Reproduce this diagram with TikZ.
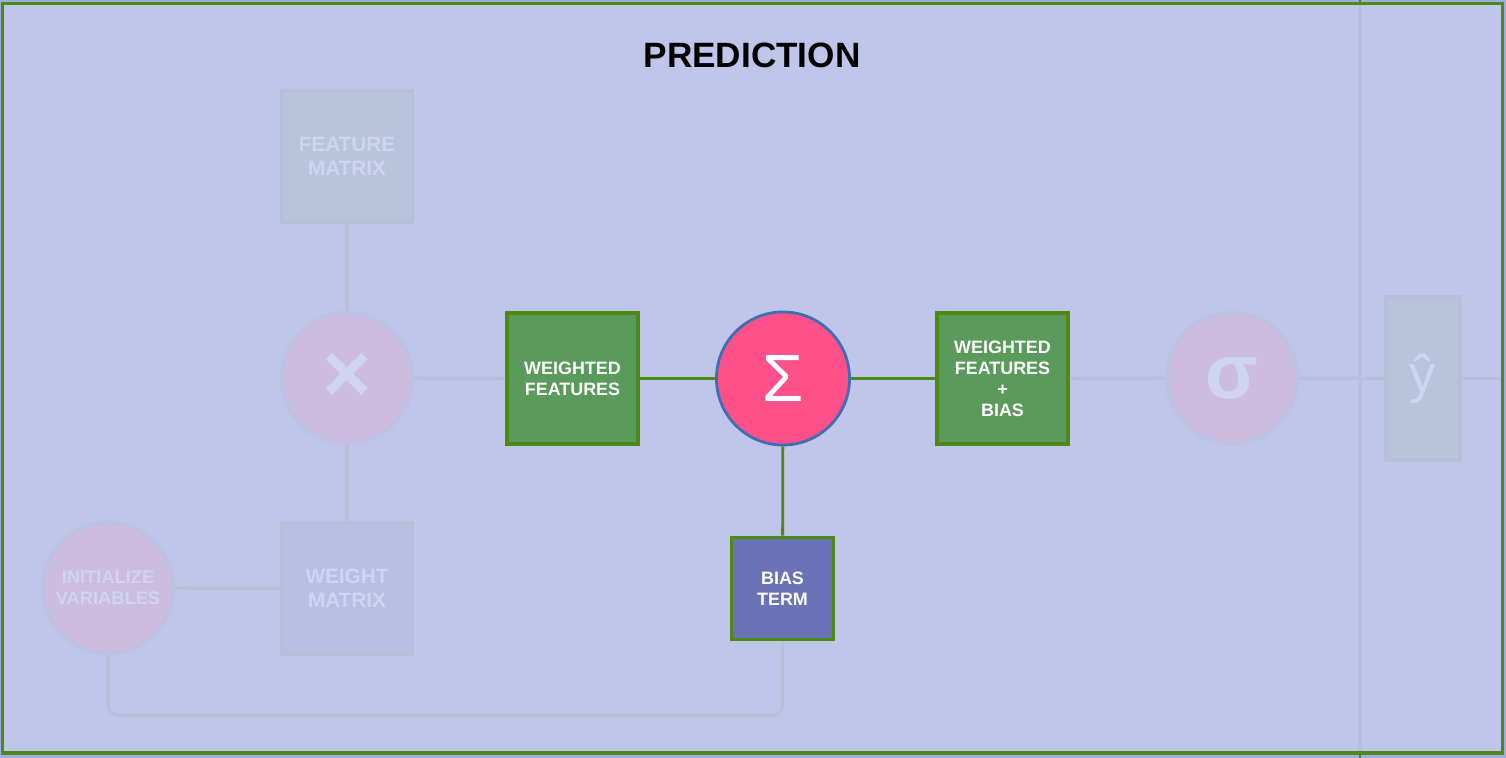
\documentclass[tikz,border=0pt]{standalone}
\usepackage{fontspec}
\setmainfont{Liberation Sans}
\usetikzlibrary{positioning}
\definecolor{outerbg}{HTML}{A3ABE3}
\definecolor{innerbg}{HTML}{C0C6EA}
\definecolor{framegreen}{HTML}{4D8A13}
\definecolor{boxgreen}{HTML}{5A9A5A}
\definecolor{biasblue}{HTML}{6872B5}
\definecolor{sumpink}{HTML}{FF5189}
\definecolor{sumedge}{HTML}{3D6FB2}
\definecolor{fadebox}{HTML}{B8C3DC}
\definecolor{fadeboxb}{HTML}{B8BFE3}
\definecolor{fadeedge}{HTML}{B6BFD8}
\definecolor{fadecirc}{HTML}{CBBCE0}
\definecolor{fadecircedge}{HTML}{BBC2E2}
\definecolor{fadetext}{HTML}{CFD5F0}
\definecolor{fadeline}{HTML}{B7C0D9}
\tikzset{livebox/.style={draw=framegreen, line width=1.05pt, fill=boxgreen, text=white, align=center, inner sep=0pt, minimum width=1.31cm, minimum height=1.31cm, font=\fontsize{5.1}{6}\selectfont\bfseries}}
\tikzset{fadedbox/.style={draw=fadeedge, line width=1pt, fill=fadebox, text=fadetext, align=center, inner sep=0pt, minimum width=1.31cm, minimum height=1.31cm, font=\fontsize{5.9}{6.8}\selectfont\bfseries}}
\tikzset{fadedcirc/.style={circle, draw=fadecircedge, line width=1pt, fill=fadecirc, text=fadetext, align=center, inner sep=0pt, minimum size=1.31cm}}
\tikzset{liveline/.style={draw=framegreen, line width=0.8pt}}
\tikzset{fadedline/.style={draw=fadeline, line width=0.9pt}}

\begin{document}
\begin{tikzpicture}[x=0.01cm, y=-0.01cm]
            \useasboundingbox [fill=outerbg] (0,0) rectangle (1506,758);
            \draw [framegreen, line width=1.05pt, fill=innerbg] (2.5,3.5) rectangle (1502.5,753);
            \draw [framegreen, line width=0.8pt] (1360,0) -- (1360,758);
            \draw [fadedline] (1360,5.5) -- (1360,751);
            \node (title) at (752,55) {\fontsize{10}{12}\selectfont\bfseries PREDICTION};
            % faded part
            \node [fadedbox] (feat) at (347,156.5) {FEATURE\\MATRIX};
            \node [fadedcirc, font=\fontsize{24}{24}\selectfont\bfseries] (times) at (347,378) {×};
            \node [fadedbox, fill=fadeboxb] (wmat) at (347,588.5) {WEIGHT\\MATRIX};
            \node [fadedcirc, font=\fontsize{5.2}{6}\selectfont\bfseries] (init) at (108,588) {INITIALIZE\\VARIABLES};
            \node [fadedcirc, font=\fontsize{22}{22}\selectfont\bfseries] (sig) at (1232,378) {σ};
            \node [fadedbox, minimum width=0.74cm, minimum height=1.63cm, font=\fontsize{15}{15}\selectfont] (yhat) at (1423,378.5) {ŷ};
            \coordinate (out) at (1501,378.5);
            \draw [fadedline] (feat) -- (times);
            \draw [fadedline] (times) -- (wmat);
            \draw [fadedline] (init) -- (wmat);
            \draw [fadedline, rounded corners=2.8pt] (init.south) -- ++(0,60) -| (782.5,641);
            % live part
            \node [livebox] (wfeat) at (572.5,378.5) {WEIGHTED\\FEATURES};
            \node [circle, draw=sumedge, line width=0.8pt, fill=sumpink, text=white, inner sep=0pt, minimum size=1.33cm, font=\fontsize{19}{19}\selectfont] (sum) at (783,378.5) {Σ};
            \node [livebox] (wfb) at (1002.5,378.5) {WEIGHTED\\FEATURES\\+\\BIAS};
            \node [livebox, fill=biasblue, minimum width=1.02cm, minimum height=1.02cm] (bias) at (782.5,588.5) {BIAS\\TERM};
            \draw [fadedline] (times) -- (wfeat);
            \draw [fadedline] (wfb) -- (sig);
            \draw [fadedline] (sig) -- (yhat);
            \draw [fadedline] (yhat) -- (out);
            \draw [liveline] (wfeat) -- (sum);
            \draw [liveline] (sum) -- (wfb);
            \draw [liveline] (sum) -- (bias);
        \end{tikzpicture}
\end{document}
